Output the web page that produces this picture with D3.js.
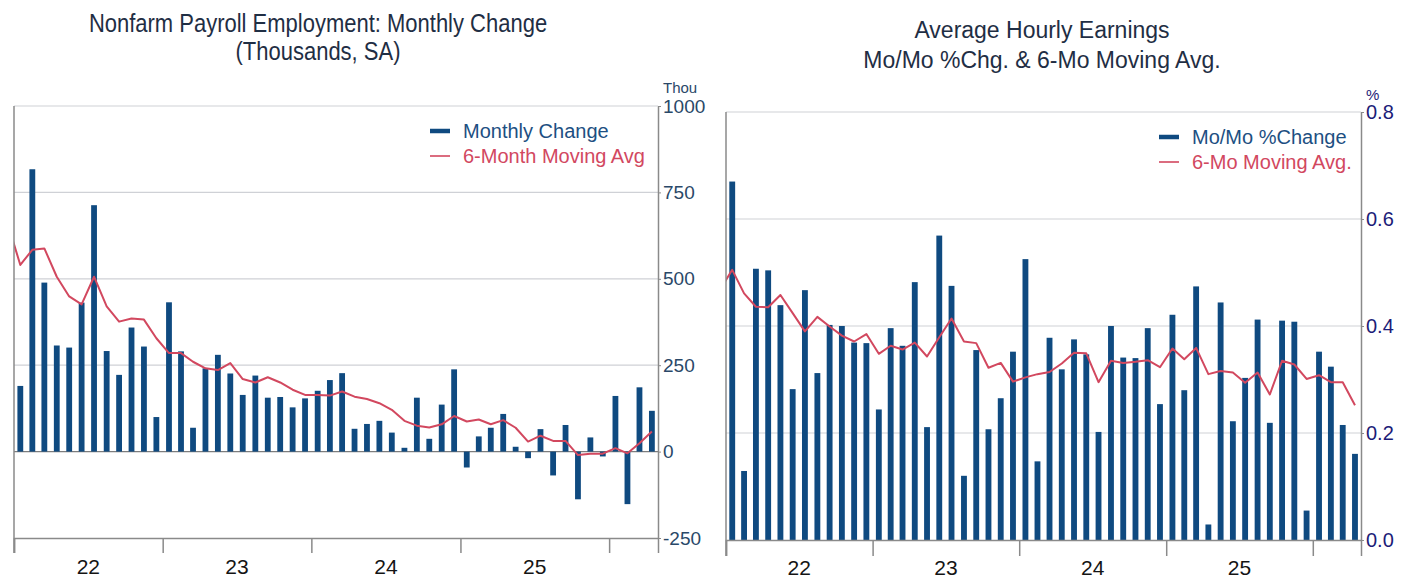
<!DOCTYPE html>
<html>
<head>
<meta charset="utf-8">
<script src="https://cdn.jsdelivr.net/npm/d3@7"></script>
<style>
  body { margin: 0; background: #fff; }
  svg { font-family: "Liberation Sans", Arial, sans-serif; display: block; }
</style>
</head>
<body>
<script>
// months shown: the first one (Dec 2021) only feeds the start of the averages, it sits left of the plot
var months = ["2021-12",
  "2022-01","2022-02","2022-03","2022-04","2022-05","2022-06","2022-07","2022-08","2022-09","2022-10","2022-11","2022-12",
  "2023-01","2023-02","2023-03","2023-04","2023-05","2023-06","2023-07","2023-08","2023-09","2023-10","2023-11","2023-12",
  "2024-01","2024-02","2024-03","2024-04","2024-05","2024-06","2024-07","2024-08","2024-09","2024-10","2024-11","2024-12",
  "2025-01","2025-02","2025-03","2025-04","2025-05","2025-06","2025-07","2025-08","2025-09","2025-10","2025-11","2025-12",
  "2026-01","2026-02","2026-03","2026-04"];

// nonfarm payrolls, thousands
var payrollChange = [null,
  190, 817, 489, 307, 301, 431, 713, 291, 222, 359, 304, 100,
  432, 290, 69, 241, 280, 226, 164, 220, 156, 158, 128, 154,
  176, 207, 227, 66, 80, 89, 55, 11, 156, 37, 136, 238,
  -46, 44, 69, 109, 14, -19, 65, -69, 77, -138, 41, -14,
  161, -152, 186, 118];
var payrollAvg = [660,
  540, 584, 588, 506, 449, 426, 506, 420, 376, 385, 382, 328,
  285, 285, 260, 241, 236, 256, 210, 200, 215, 200, 179, 164,
  164, 162, 174, 159, 152, 140, 121, 89, 75, 70, 79, 103,
  87, 93, 79, 91, 69, 29, 46, 31, 31, -10, -6, -6,
  10, -5, 24, 58];

// average hourly earnings, % m/m
var earningsChange = [null,
  0.670, 0.129, 0.507, 0.504, 0.439, 0.282, 0.467, 0.312, 0.402, 0.400, 0.369, 0.368,
  0.244, 0.396, 0.363, 0.482, 0.211, 0.569, 0.475, 0.120, 0.355, 0.207, 0.265, 0.352,
  0.525, 0.147, 0.378, 0.319, 0.375, 0.347, 0.202, 0.400, 0.341, 0.340, 0.396, 0.254,
  0.421, 0.280, 0.474, 0.029, 0.444, 0.222, 0.303, 0.412, 0.219, 0.410, 0.408, 0.055,
  0.352, 0.324, 0.215, 0.161];
var earningsAvg = [0.467,
  0.505, 0.461, 0.436, 0.435, 0.458, 0.424, 0.390, 0.417, 0.399, 0.382, 0.371, 0.385,
  0.348, 0.363, 0.356, 0.369, 0.343, 0.379, 0.414, 0.371, 0.368, 0.322, 0.331, 0.296,
  0.304, 0.310, 0.314, 0.330, 0.350, 0.349, 0.295, 0.335, 0.331, 0.333, 0.336, 0.323,
  0.358, 0.338, 0.359, 0.310, 0.316, 0.313, 0.294, 0.313, 0.272, 0.335, 0.328, 0.301,
  0.308, 0.295, 0.295, 0.252];

var yearLabels = ["22", "23", "24", "25"];
var payrollTicks = [-250, 0, 250, 500, 750, 1000];
var earningsTicks = [0, 0.2, 0.4, 0.6, 0.8];

var barColor = "#0f4a80",
    lineColor = "#d2485f";

var parseMonth = d3.timeParse("%Y-%m");
var dates = months.map(parseMonth);
var plainLocale = d3.formatLocale({decimal: ".", thousands: ",", grouping: [3], currency: ["$", ""], minus: "-"});

var svg = d3.select("body").append("svg")
    .attr("width", 1408)
    .attr("height", 578);

function drawPanel(o) {
  var x = d3.scaleTime()
      .domain([parseMonth("2022-01"), parseMonth("2026-05")])
      .range([o.left, o.right]);
  var y = d3.scaleLinear().domain(o.domain).range([o.bottom, o.top]);

  var center = function(d) { return (x(d) + x(d3.timeMonth.offset(d, 1))) / 2; };
  var step = x(parseMonth("2022-02")) - x(parseMonth("2022-01"));
  var bw = step * o.barFrac;

  var g = svg.append("g");

  var clipId = "clip-" + o.id;
  svg.append("clipPath").attr("id", clipId)
    .append("rect")
      .attr("x", o.left).attr("y", o.top - 20)
      .attr("width", o.right - o.left).attr("height", o.bottom - o.top + 40);

  // gridlines
  g.selectAll(".grid")
      .data(o.ticks.filter(function(t) { return t !== o.domain[0]; }))
    .enter().append("line")
      .attr("x1", o.left).attr("x2", o.right)
      .attr("y1", function(t) { return y(t); })
      .attr("y2", function(t) { return y(t); })
      .attr("stroke", function(t) { return t === 0 ? "#7d7d7d" : "#cfd1d6"; })
      .attr("stroke-width", function(t) { return t === 0 ? 1.3 : 1.2; });

  // bars
  var bars = dates.map(function(d, i) { return {date: d, v: o.bars[i]}; })
      .filter(function(d) { return d.v != null; });
  g.selectAll(".bar")
      .data(bars)
    .enter().append("rect")
      .attr("x", function(d) { return center(d.date) - bw / 2; })
      .attr("y", function(d) { return y(Math.max(0, d.v)); })
      .attr("width", bw)
      .attr("height", function(d) { return Math.abs(y(d.v) - y(0)); })
      .attr("fill", barColor);

  // moving average
  var line = d3.line()
      .x(function(d) { return center(d.date); })
      .y(function(d) { return y(d.v); });
  g.append("path")
      .datum(dates.map(function(d, i) { return {date: d, v: o.avg[i]}; }))
      .attr("clip-path", "url(#" + clipId + ")")
      .attr("fill", "none")
      .attr("stroke", lineColor)
      .attr("stroke-width", 2)
      .attr("stroke-linejoin", "round")
      .attr("d", line);

  // frame: bottom axis with year ticks, left edge, right value axis
  var xAxis = d3.axisBottom(x)
      .tickValues(d3.timeYear.range(x.domain()[0], d3.timeDay.offset(x.domain()[1], 1)))
      .tickSize(o.tickLen)
      .tickFormat("");
  var xg = g.append("g")
      .attr("transform", "translate(0," + o.bottom + ")")
      .call(xAxis);
  xg.select(".domain").attr("stroke", "#8a8a8a").attr("stroke-width", 1.5);
  xg.selectAll(".tick line").attr("stroke", "#8a8a8a").attr("stroke-width", 1.5);

  g.append("line")
      .attr("x1", o.left).attr("x2", o.left)
      .attr("y1", o.top).attr("y2", o.bottom + o.tickLen)
      .attr("stroke", "#8a8a8a").attr("stroke-width", 1.5);

  var yAxis = d3.axisRight(y)
      .tickValues(o.ticks)
      .tickSize(3)
      .tickSizeOuter(0)
      .tickPadding(2)
      .tickFormat(o.fmt);
  var yg = g.append("g")
      .attr("transform", "translate(" + o.right + ",0)")
      .call(yAxis);
  yg.select(".domain").attr("stroke", "#8a8a8a").attr("stroke-width", 1.5);
  yg.selectAll(".tick line").attr("stroke", "#8a8a8a");
  yg.selectAll(".tick text")
      .attr("fill", o.labelColor)
      .style("font-size", o.labelSize + "px")
      .style("font-family", "'Liberation Sans', Arial, sans-serif");

  g.append("text")
      .attr("x", o.right + 5).attr("y", o.unitY)
      .attr("fill", o.labelColor)
      .style("font-size", "15px")
      .text(o.unit);

  // year labels centred in each year
  g.selectAll(".year")
      .data(yearLabels)
    .enter().append("text")
      .attr("x", function(d, i) {
        var a = d3.timeYear.offset(x.domain()[0], i), b = d3.timeYear.offset(a, 1);
        return (x(a) + x(b)) / 2;
      })
      .attr("y", o.yearY)
      .attr("text-anchor", "middle")
      .attr("fill", "#141414")
      .style("font-size", "21px")
      .text(function(d) { return d; });

  // legend
  var lg = g.append("g").attr("transform", "translate(" + o.legendX + "," + o.legendY + ")");
  lg.append("line").attr("x1", 0).attr("x2", 20).attr("y1", 0).attr("y2", 0)
      .attr("stroke", barColor).attr("stroke-width", 4.5);
  lg.append("text").attr("x", 33).attr("y", 0).attr("dy", "0.35em")
      .attr("fill", "#1d4f82").style("font-size", "20px").text(o.legend[0]);
  lg.append("line").attr("x1", 0).attr("x2", 20).attr("y1", o.legendGap).attr("y2", o.legendGap)
      .attr("stroke", lineColor).attr("stroke-width", 1.6);
  lg.append("text").attr("x", 33).attr("y", o.legendGap).attr("dy", "0.35em")
      .attr("fill", "#d2485f").style("font-size", "20px").text(o.legend[1]);

  // title
  o.title.forEach(function(t, i) {
    svg.append("text")
        .attr("transform", "translate(" + o.titleX + "," + o.titleY[i] + ") scale(1," + o.titleStretch + ")")
        .attr("text-anchor", "middle")
        .attr("fill", "#1f2e44")
        .style("font-size", o.titleSize + "px")
        .text(t);
  });
}

drawPanel({
  id: "payroll",
  left: 14, right: 658, top: 106, bottom: 538,
  domain: [-250, 1000], ticks: payrollTicks, fmt: plainLocale.format("d"),
  bars: payrollChange, avg: payrollAvg, barFrac: 0.46,
  labelColor: "#2a4868", labelSize: 19,
  unit: "Thou", unitY: 93,
  tickLen: 15, yearY: 574,
  legend: ["Monthly Change", "6-Month Moving Avg"],
  legendX: 430, legendY: 131, legendGap: 25,
  title: ["Nonfarm Payroll Employment: Monthly Change", "(Thousands, SA)"],
  titleX: 318, titleY: [32, 60], titleSize: 22, titleStretch: 1.18
});

drawPanel({
  id: "earnings",
  left: 726, right: 1361, top: 112, bottom: 540,
  domain: [0, 0.8], ticks: earningsTicks, fmt: plainLocale.format(".1f"),
  bars: earningsChange, avg: earningsAvg, barFrac: 0.47,
  labelColor: "#1c1c78", labelSize: 20,
  unit: "%", unitY: 100,
  tickLen: 16, yearY: 575,
  legend: ["Mo/Mo %Change", "6-Mo Moving Avg."],
  legendX: 1159, legendY: 137, legendGap: 25,
  title: ["Average Hourly Earnings", "Mo/Mo %Chg. & 6-Mo Moving Avg."],
  titleX: 1042, titleY: [38, 68], titleSize: 23, titleStretch: 1.08
});
</script>
</body>
</html>
